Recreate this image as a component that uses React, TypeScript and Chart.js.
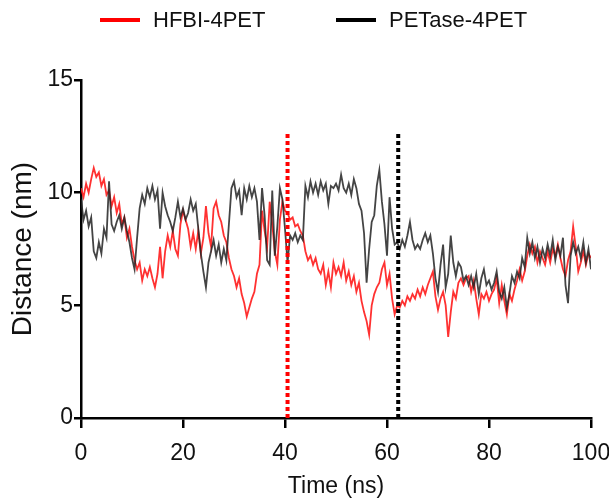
import React, { useEffect, useRef } from 'react';
import { Chart, registerables } from 'chart.js';

Chart.register(...registerables);

const TIME_STEP_NS = 0.5;

const hfbiDistance = [
  10.2, 9.8, 10.4, 10.0, 10.6, 11.1, 10.7, 10.9, 10.3, 10.6,
  9.9, 10.1, 9.4, 9.8, 9.1, 9.5, 8.6, 8.9, 8.0, 8.4,
  7.6, 7.0, 6.6, 6.9, 6.1, 6.6, 6.3, 6.7, 6.2, 5.8,
  6.4, 7.6, 6.2, 7.4, 8.1, 7.6, 8.3, 7.5, 7.2, 8.6,
  9.2, 8.8, 8.4, 7.6, 8.2, 7.5, 8.3, 7.3, 8.0, 9.4,
  8.2, 7.6, 9.3, 9.6, 9.0, 8.7, 8.1, 7.8, 7.1, 6.6,
  6.3, 5.8, 6.2, 5.5, 5.1, 4.5, 4.9, 5.3, 5.6, 6.4,
  6.8, 9.2, 8.3, 7.6, 9.6, 8.6, 7.4, 6.8, 8.8, 9.6,
  9.2, 9.1, 8.8, 8.9, 8.5, 8.6, 8.3, 8.1, 7.4, 7.0,
  7.2, 6.8, 7.1, 6.6, 6.4, 6.8, 5.9, 6.5, 5.8, 6.9,
  6.4, 6.7, 6.3, 6.9, 6.1, 6.5, 5.9, 6.3, 5.6, 6.0,
  5.2, 4.7, 4.3, 3.7, 5.0, 5.5, 5.8, 6.0, 6.6, 6.9,
  5.9, 6.4, 5.3, 4.6, 5.0, 4.9, 5.2, 5.0, 5.4, 5.2,
  5.5, 5.3, 5.7, 5.4, 5.8, 5.5, 5.9, 6.2, 6.5, 5.4,
  4.8, 5.3, 5.6, 5.0, 3.6, 4.7, 5.6, 5.3, 6.0, 6.2,
  5.9, 6.2, 6.3, 5.6, 6.1, 5.3, 4.6, 5.5, 5.3, 5.6,
  5.2, 5.5, 5.7, 6.2, 5.1, 5.9, 5.2, 4.6, 5.5, 5.2,
  5.7, 6.1, 6.6, 6.1, 6.5, 7.2, 7.7, 7.3, 7.6, 6.9,
  7.4, 7.1, 6.8, 7.4, 6.9, 7.5, 7.2, 7.7, 7.1, 6.6,
  6.3, 7.0, 7.4, 8.5, 7.6, 6.5, 6.9, 7.4, 6.8, 7.3,
  7.1,
];

const petaseDistance = [
  9.7, 8.8, 9.2, 8.5, 8.9, 7.4, 7.1, 7.8, 7.3, 8.4,
  8.0, 10.5, 8.6, 8.3, 8.7, 9.0, 8.4, 8.9, 8.3, 7.8,
  7.1, 6.6, 8.0, 9.3, 9.9, 9.5, 10.2, 9.8, 10.3, 9.7,
  10.1, 8.4, 10.0, 9.4, 9.0, 8.7, 8.3, 8.9, 9.6, 8.9,
  9.3, 8.8, 9.1, 9.7, 9.2, 9.5, 8.4, 7.3, 6.5, 5.8,
  6.9, 7.4, 7.9, 7.2, 7.7, 6.9, 7.5, 7.0, 8.6, 10.2,
  10.5, 9.8, 10.1, 9.0, 10.2, 9.7, 10.3, 9.8, 10.2, 9.6,
  7.9, 10.2, 9.0, 7.0, 6.8, 10.1, 7.2, 8.5, 10.2, 9.7,
  8.4, 6.9, 8.1, 7.9, 8.2, 7.8, 8.1, 7.9, 10.3, 9.8,
  10.5, 10.0, 10.4, 9.9, 10.5, 10.1, 10.4, 9.5, 10.3, 10.2,
  10.4, 10.1, 10.8, 10.2, 10.0, 10.4, 9.9, 10.6, 10.2, 9.5,
  9.2, 8.2, 6.0, 7.5, 8.7, 9.0, 10.3, 11.0, 9.6, 8.6,
  7.2, 9.8, 8.4, 7.7, 7.8, 7.5, 7.9, 7.6, 8.1, 8.7,
  7.9, 7.5, 7.7, 7.5, 7.9, 8.2, 7.8, 8.1, 7.3, 6.2,
  5.6, 6.8, 7.7, 5.8, 6.4, 8.1, 6.9, 6.3, 6.9, 6.7,
  6.1, 6.3, 5.9, 6.3, 5.8, 6.4, 5.5, 6.2, 6.6, 5.9,
  6.1, 5.7, 6.0, 6.5, 5.6, 5.3, 5.8, 4.9, 5.5, 6.3,
  6.0, 6.5, 6.2, 7.1, 6.7, 8.0, 7.3, 7.8, 7.1, 7.6,
  6.9, 7.5, 7.1, 7.7, 7.2, 7.9, 7.0, 7.6, 7.2, 8.0,
  5.9, 5.1, 7.2, 7.8, 7.3, 7.6, 7.1, 7.8, 6.9, 7.5,
  6.6,
];

const seriesLabels = ['HFBI-4PET', 'PETase-4PET'];
const seriesColors = ['rgba(255,32,32,0.92)', 'rgba(35,35,35,0.85)'];
const legendColors = ['#ff0000', '#000000'];

const xTickValues = [0, 20, 40, 60, 80, 100];
const yTickValues = [0, 5, 10, 15];

const markerTimes = [40.5, 62.2];
const markerColors = ['#ff0000', '#000000'];
const markerTop = 12.7;

const FONT = "'Liberation Sans', Arial, sans-serif";

const toPoints = (values: number[]) =>
  values.map((v, i) => ({ x: i * TIME_STEP_NS, y: v }));

const legendPlugin = {
  id: 'topLegend',
  afterDraw(chart: any) {
    const ctx = chart.ctx;
    ctx.save();
    const items = [
      { x: 100, label: seriesLabels[0], color: legendColors[0] },
      { x: 336, label: seriesLabels[1], color: legendColors[1] },
    ];
    const y = 20;
    items.forEach((it) => {
      ctx.strokeStyle = it.color;
      ctx.lineWidth = 4;
      ctx.beginPath();
      ctx.moveTo(it.x, y);
      ctx.lineTo(it.x + 40, y);
      ctx.stroke();
      ctx.fillStyle = '#111';
      ctx.font = `22px ${FONT}`;
      ctx.textBaseline = 'middle';
      ctx.textAlign = 'left';
      ctx.fillText(it.label, it.x + 53, y + 1);
    });
    ctx.restore();
  },
};

export default function App() {
  const canvasRef = useRef<HTMLCanvasElement | null>(null);

  useEffect(() => {
    if (!canvasRef.current) return;
    const markerSets = markerTimes.map((t, i) => ({
      label: 'marker' + i,
      data: [
        { x: t, y: 0 },
        { x: t, y: markerTop },
      ],
      borderColor: markerColors[i],
      borderWidth: 4,
      borderDash: [4, 3],
      pointRadius: 0,
      fill: false,
      order: 0,
    }));
    const chart = new Chart(canvasRef.current, {
      type: 'line',
      data: {
        datasets: [
          ...markerSets,
          {
            label: seriesLabels[1],
            data: toPoints(petaseDistance),
            borderColor: seriesColors[1],
            borderWidth: 1.8,
            pointRadius: 0,
            tension: 0,
            fill: false,
            order: 1,
          },
          {
            label: seriesLabels[0],
            data: toPoints(hfbiDistance),
            borderColor: seriesColors[0],
            borderWidth: 1.8,
            pointRadius: 0,
            tension: 0,
            fill: false,
            order: 2,
          },
        ],
      },
      options: {
        animation: false,
        responsive: true,
        maintainAspectRatio: false,
        layout: { padding: { top: 80, right: 18, left: 0, bottom: 0 } },
        plugins: {
          legend: { display: false },
          tooltip: { enabled: false },
        },
        scales: {
          x: {
            type: 'linear',
            min: 0,
            max: 100,
            afterBuildTicks: (scale: any) => {
              scale.ticks = xTickValues.map((v) => ({ value: v }));
            },
            afterFit: (scale: any) => {
              scale.height = 83;
              scale.paddingLeft = 0;
              scale.paddingRight = 0;
            },
            grid: {
              display: true,
              drawOnChartArea: false,
              drawTicks: true,
              tickLength: 10,
              lineWidth: 2.5,
              color: '#000',
            },
            border: { display: true, color: '#000', width: 2.5 },
            ticks: {
              color: '#111',
              font: { family: FONT, size: 23 },
              padding: 12,
              maxRotation: 0,
              autoSkip: false,
            },
            title: {
              display: true,
              text: 'Time (ns)',
              color: '#111',
              font: { family: FONT, size: 23 },
              padding: { top: 0, bottom: 1 },
            },
          },
          y: {
            type: 'linear',
            min: 0,
            max: 15,
            afterBuildTicks: (scale: any) => {
              scale.ticks = yTickValues.map((v) => ({ value: v }));
            },
            afterFit: (scale: any) => {
              scale.width = 81;
            },
            grid: {
              display: true,
              drawOnChartArea: false,
              drawTicks: true,
              tickLength: 7,
              lineWidth: 2.5,
              color: '#000',
            },
            border: { display: true, color: '#000', width: 2.5 },
            ticks: {
              color: '#111',
              font: { family: FONT, size: 23 },
              padding: 1,
              autoSkip: false,
            },
            title: {
              display: true,
              text: 'Distance (nm)',
              color: '#111',
              font: { family: FONT, size: 28 },
              padding: { top: 6, bottom: 0 },
            },
          },
        },
      },
      plugins: [legendPlugin],
    });
    return () => chart.destroy();
  }, []);

  return (
    <div style={{ position: 'absolute', left: 0, top: 0, width: 609, height: 501 }}>
      <canvas ref={canvasRef} />
    </div>
  );
}
